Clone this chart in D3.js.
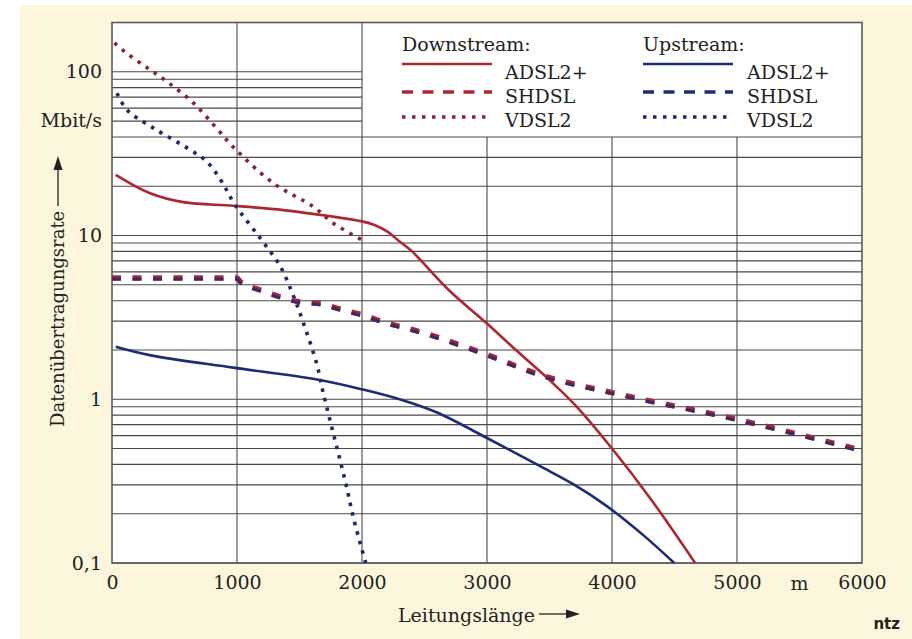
<!DOCTYPE html>
<html><head><meta charset="utf-8">
<script src="https://cdn.jsdelivr.net/npm/d3@7"></script>
<style>body{margin:0;background:#fff}svg{display:block}</style>
</head><body>
<svg id="c" width="912" height="639"></svg>
<script>
// ---- data (distance in m, rate in Mbit/s) ----
const xTickValues = [0, 1000, 2000, 3000, 4000, 5000, 6000];
const xTickLabels = ["0", "1000", "2000", "3000", "4000", "5000", "6000"];
const yTickValues = [0.1, 1, 10, 100];
const yTickLabels = ["0,1", "1", "10", "100"];

const adslDown = [[30,23.5],[300,18.2],[570,16.0],[970,15.2],[1370,14.3],[1720,13.2],[2000,12.2],[2100,11.6],[2200,10.6],[2300,9.2],[2400,8.0],[2700,4.6],[3000,2.9],[3200,2.1],[3450,1.42],[3700,0.93],[4000,0.5],[4320,0.24],[4665,0.1]];
const adslUp = [[30,2.09],[300,1.86],[970,1.56],[1640,1.32],[2000,1.15],[2300,1.0],[2600,0.83],[3000,0.58],[3425,0.39],[3700,0.3],[3950,0.225],[4250,0.148],[4498,0.1]];
const shdsl = [[0,5.5],[1000,5.5],[1030,5.2],[1185,4.65],[1345,4.22],[1505,3.93],[1680,3.82],[1848,3.51],[2008,3.27],[2170,2.97],[2465,2.58],[2960,1.92],[3425,1.41],[4090,1.06],[4945,0.77],[5985,0.49]];
const vdslDown = [[20,150],[105,132],[280,106],[440,87],[650,64.6],[850,44],[970,34.7],[1290,20.9],[1610,15.0],[1770,11.9],[2000,9.4]];
const vdslUp = [[40,74],[120,58.5],[330,45.4],[600,34.3],[760,28.2],[880,21.2],[984,15.4],[1184,9.67],[1344,6.52],[1448,4.34],[1528,2.97],[1640,1.62],[1688,1.11],[1784,0.563],[1864,0.321],[1936,0.183],[2030,0.1]];

const RED = "#ae2632", BLUE = "#1e2c78", RED_DOT = "#8e2230", BLUE_DOT = "#1c2a68";
const FONT = "DejaVu Serif";

const svg = d3.select("#c");
svg.append("rect").attr("x",20).attr("y",5).attr("width",892).attr("height",634).attr("fill","#fcf7dc");

const L = 112, R = 862, T = 22.5, B = 563;
const x = d3.scaleLinear().domain([0,6000]).range([L,R]);
const y = d3.scaleLog().domain([0.1,200]).range([B,T]);

svg.append("rect").attr("x",L).attr("y",T).attr("width",R-L).attr("height",B-T).attr("fill","#fff");

// grid
const grid = svg.append("g").attr("stroke","#4a4a4a").attr("stroke-width",1.1);
const hVals = [];
[0.1,1,10,100].forEach(d => { for (let k=1;k<=9;k++){ const v=k*d; if (v<=100.0001) hVals.push(v);} });
hVals.forEach(v => {
  grid.append("line").attr("x1",L).attr("x2", v>40.5 ? x(2000) : R)
    .attr("y1",y(v)).attr("y2",y(v));
});
xTickValues.slice(1,-1).forEach(m => {
  grid.append("line").attr("x1",x(m)).attr("x2",x(m))
    .attr("y1", m>2000 ? y(40) : T).attr("y2",B);
});
svg.append("rect").attr("x",L).attr("y",T).attr("width",R-L).attr("height",B-T)
  .attr("fill","none").attr("stroke","#5a5a5a").attr("stroke-width",1.6);

// axes
const xAxis = d3.axisBottom(x).tickValues(xTickValues).tickFormat((d,i)=>xTickLabels[i]).tickSize(0).tickPadding(13);
const gx = svg.append("g").attr("transform",`translate(0,${B})`).call(xAxis);
const yAxis = d3.axisLeft(y).tickValues(yTickValues).tickFormat((d,i)=>yTickLabels[i]).tickSize(0).tickPadding(10);
const gy = svg.append("g").attr("transform",`translate(${L},0)`).call(yAxis);
[gx,gy].forEach(g => {
  g.select(".domain").remove();
  g.attr("font-family",FONT).attr("font-size",19);
  g.selectAll("text").attr("fill","#222");
});
svg.append("text").attr("x",x(5500)).attr("y",590).attr("text-anchor","middle")
  .attr("font-family",FONT).attr("font-size",19).attr("fill","#222").text("m");
svg.append("text").attr("x",L-10).attr("y",y(50)).attr("dy","0.32em").attr("text-anchor","end")
  .attr("font-family",FONT).attr("font-size",19).attr("fill","#222").text("Mbit/s");

// axis titles with arrows
svg.append("text").attr("transform","translate(64,427) rotate(-90)")
  .attr("font-family",FONT).attr("font-size",18).attr("fill","#222").text("Datenübertragungsrate");
svg.append("line").attr("x1",58).attr("x2",58).attr("y1",206).attr("y2",168).attr("stroke","#222").attr("stroke-width",1.3);
svg.append("path").attr("d","M58,156 L53.5,170 L62.5,170 Z").attr("fill","#222");

svg.append("text").attr("x",398).attr("y",622)
  .attr("font-family",FONT).attr("font-size",19).attr("fill","#222").text("Leitungslänge");
svg.append("line").attr("x1",539).attr("x2",568).attr("y1",614).attr("y2",614).attr("stroke","#222").attr("stroke-width",1.3);
svg.append("path").attr("d","M580,614 L566,609.5 L566,618.5 Z").attr("fill","#222");

svg.append("text").attr("x",900).attr("y",629).attr("text-anchor","end")
  .attr("font-family","DejaVu Sans").attr("font-weight","bold").attr("font-size",15).attr("fill","#222").text("ntz");

// curves
const line = d3.line().x(d=>x(d[0])).y(d=>y(d[1])).curve(d3.curveCatmullRom.alpha(0.5));
const lineM = d3.line().x(d=>x(d[0])).y(d=>y(d[1])).curve(d3.curveMonotoneX);
const curves = svg.append("g").attr("fill","none");
curves.append("path").attr("d",line(adslUp)).attr("stroke",BLUE).attr("stroke-width",2.6);
curves.append("path").attr("d",line(adslDown)).attr("stroke",RED).attr("stroke-width",2.6);
curves.append("path").attr("d",line(vdslUp)).attr("stroke",BLUE_DOT).attr("stroke-width",3.6).attr("stroke-dasharray","3.5,6.3");
curves.append("path").attr("d",line(vdslDown)).attr("stroke",RED_DOT).attr("stroke-width",3.6).attr("stroke-dasharray","3.5,6.3");
curves.append("path").attr("d",lineM(shdsl)).attr("stroke",RED).attr("stroke-width",5.5).attr("stroke-dasharray","9,11.5");
curves.append("path").attr("d",lineM(shdsl)).attr("transform","translate(0,1)").attr("stroke","#3a2a6a").attr("stroke-width",3).attr("stroke-dasharray","9,11.5");

// legend
const lg = svg.append("g").attr("font-family",FONT).attr("font-size",19).attr("fill","#222");
const groups = [
  {title:"Downstream:", x0:402, x1:492, tx:505, solid:RED, dot:RED_DOT},
  {title:"Upstream:", x0:643, x1:733, tx:747, solid:BLUE, dot:BLUE_DOT}
];
const rows = [
  {name:"ADSL2+", base:79, ly:64, kind:"solid"},
  {name:"SHDSL", base:103, ly:92, kind:"dash"},
  {name:"VDSL2", base:127, ly:117, kind:"dot"}
];
groups.forEach(g => {
  lg.append("text").attr("x",g.x0).attr("y",51).text(g.title);
  rows.forEach(r => {
    const ln = lg.append("line").attr("x1",g.x0).attr("x2",g.x1).attr("y1",r.ly).attr("y2",r.ly);
    if (r.kind==="solid") ln.attr("stroke",g.solid).attr("stroke-width",2.6);
    if (r.kind==="dash") ln.attr("stroke",g.solid).attr("stroke-width",3.6).attr("stroke-dasharray","11,9.5");
    if (r.kind==="dot") ln.attr("stroke",g.dot).attr("stroke-width",3.6).attr("stroke-dasharray","3.5,6.5");
    lg.append("text").attr("x",g.tx).attr("y",r.base).text(r.name);
  });
});
</script>
</body></html>
